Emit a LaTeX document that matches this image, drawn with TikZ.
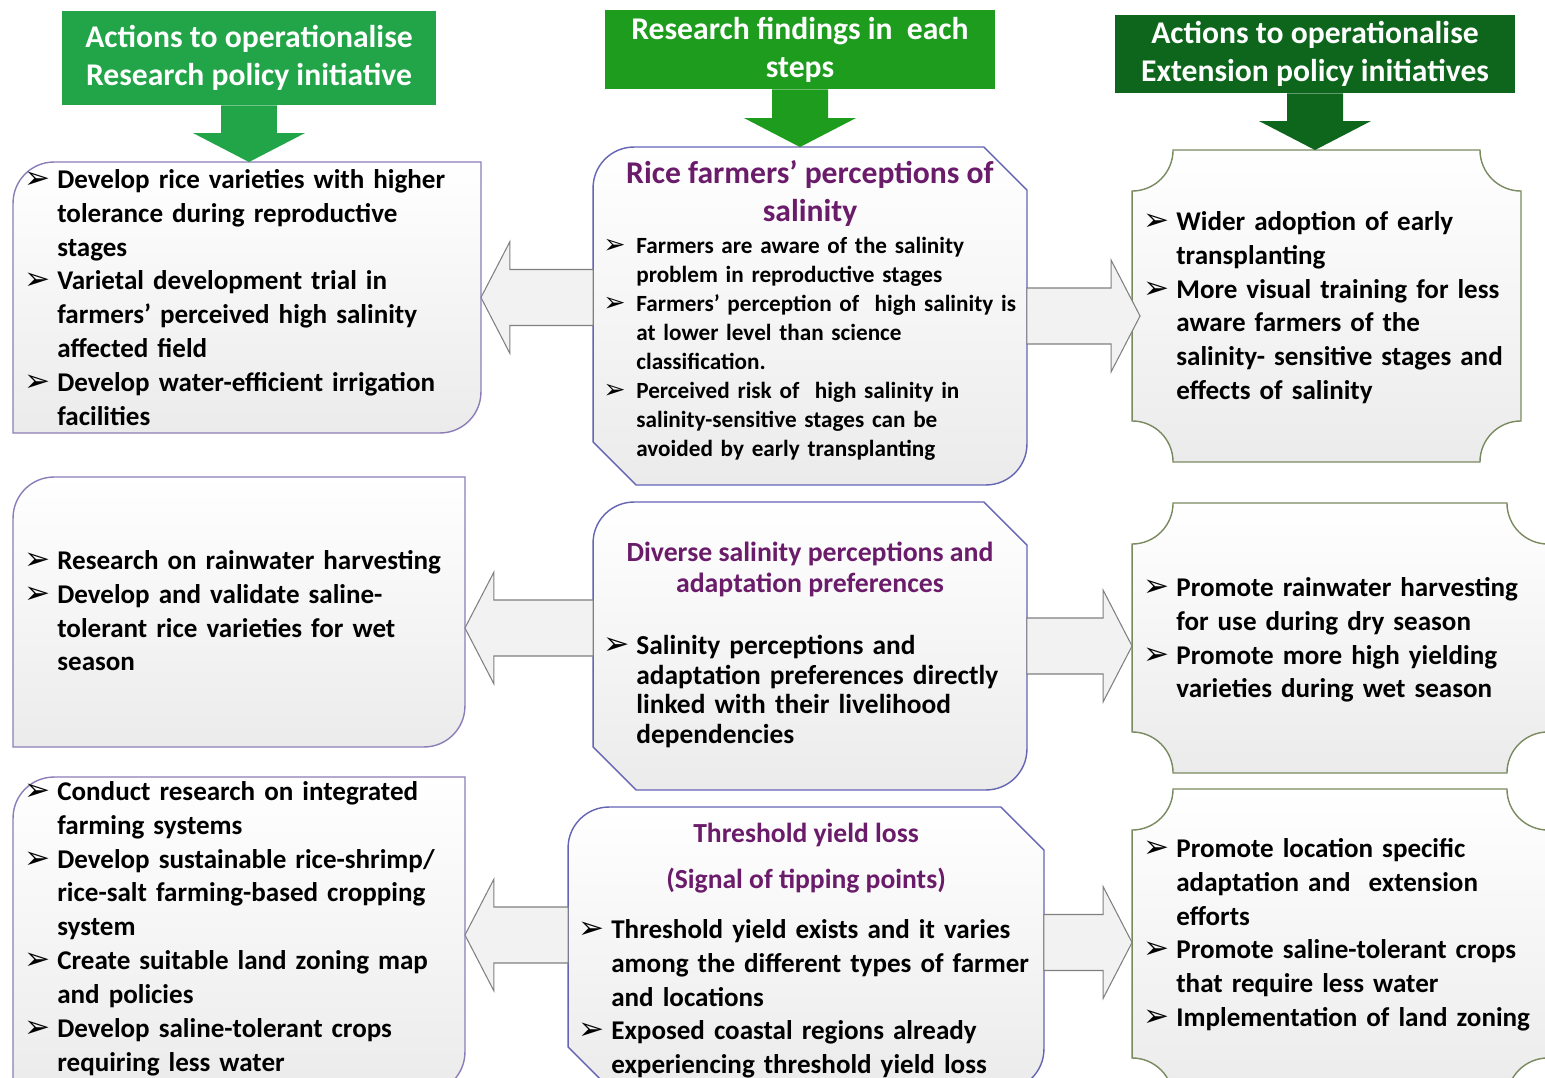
\documentclass[tikz,border=0pt]{standalone}
\usepackage{fontspec}
\setmainfont{Carlito}
\newfontfamily\dingfont{DejaVu Sans}
\usetikzlibrary{calc}

\definecolor{hdrA}{HTML}{22A548}
\definecolor{hdrB}{HTML}{1E9C1E}
\definecolor{hdrC}{HTML}{0E661C}
\definecolor{titlepurple}{HTML}{6A1B6A}
\definecolor{leftline}{HTML}{8C7DB8}
\definecolor{midline}{HTML}{6464B4}
\definecolor{rightline}{HTML}{7A8A60}
\definecolor{arrline}{HTML}{808080}
\definecolor{boxgray}{HTML}{EBEBEB}

\newlength{\bulind}
\setlength{\bulind}{0.66cm}
\setlength{\parskip}{0pt}
\newcommand{\bitem}{\par\noindent\hangindent=\bulind\hangafter=1\makebox[\bulind][l]{\dingfont\scalebox{1.15}{➢}}}

\newcommand{\crad}{0.82cm}
\newcommand{\csnip}{0.86cm}
\newcommand{\shaftw}{0.56cm}
\newcommand{\headw}{1.12cm}
\newcommand{\headl}{0.58cm}

% box outlines drawn round a named area node
\newcommand{\actshape}[2]{%
  \path[#2] (#1.north west) ++(0,-\crad) arc[start angle=180,end angle=90,radius=\crad]
    -- (#1.north east) -- ([yshift=\crad]#1.south east)
    arc[start angle=0,end angle=-90,radius=\crad] -- (#1.south west) -- cycle;}
\newcommand{\findshape}[2]{%
  \path[#2] (#1.north west) ++(0,-\crad) arc[start angle=180,end angle=90,radius=\crad]
    -- ([xshift=-\csnip]#1.north east) -- ([yshift=-\csnip]#1.north east)
    -- ([yshift=\crad]#1.south east) arc[start angle=0,end angle=-90,radius=\crad]
    -- ([xshift=\csnip]#1.south west) -- ([yshift=\csnip]#1.south west) -- cycle;}
\newcommand{\extshape}[2]{%
  \path[#2] ([xshift=\crad]#1.north west) -- ([xshift=-\crad]#1.north east)
    arc[start angle=180,end angle=270,radius=\crad] -- ([yshift=\crad]#1.south east)
    arc[start angle=90,end angle=180,radius=\crad] -- ([xshift=\crad]#1.south west)
    arc[start angle=0,end angle=90,radius=\crad] -- ([yshift=-\crad]#1.north west)
    arc[start angle=-90,end angle=0,radius=\crad] -- cycle;}

% arrows
\newcommand{\downarr}[3]{%
  \fill[#3] let \p1=(#1.south), \p2=(#2.north) in
    ({\x1-\shaftw},\y1) -- ({\x1-\shaftw},{\y2+\headl}) -- ({\x1-\headw},{\y2+\headl})
    -- (\x1,\y2) -- ({\x1+\headw},{\y2+\headl}) -- ({\x1+\shaftw},{\y2+\headl})
    -- ({\x1+\shaftw},\y1) -- cycle;}
\newcommand{\sidearr}[2]{%
  \path[blockarr] let \p1=(#1), \p2=(#2), \n1={ifthenelse(\x2>\x1,1,-1)} in
    (\x1,{\y1+\shaftw}) -- ({\x2-\n1*\headl},{\y1+\shaftw}) -- ({\x2-\n1*\headl},{\y1+\headw})
    -- (\x2,\y1) -- ({\x2-\n1*\headl},{\y1-\headw}) -- ({\x2-\n1*\headl},{\y1-\shaftw})
    -- (\x1,{\y1-\shaftw}) -- cycle;}

\begin{document}
\begin{tikzpicture}[x=0.02cm, y=0.02cm,
    area/.style={inner sep=0, outer sep=0},
    hdr/.style={text=white, align=center, inner sep=0, font=\fontsize{18pt}{21.6pt}\selectfont\bfseries},
    lbox/.style={draw=leftline, line width=0.8pt, top color=white, bottom color=boxgray},
    mbox/.style={draw=midline, line width=0.8pt, top color=white, bottom color=boxgray},
    rbox/.style={draw=rightline, line width=0.8pt, top color=white, bottom color=boxgray},
    blockarr/.style={draw=arrline, line width=0.6pt, fill=black!5},
    bodytxt/.style={anchor=north west, inner sep=0, align=left, font=\fontsize{15.4pt}{19.3pt}\selectfont\bfseries},
    smalltxt/.style={anchor=north west, inner sep=0, align=left, font=\fontsize{13.2pt}{16.5pt}\selectfont\bfseries},
    ttl/.style={anchor=north, inner sep=0, align=center, text=titlepurple}
  ]
  \useasboundingbox (0,0) rectangle (1545,-1078);
  \clip (0,0) rectangle (1545,-1078);
  \fill[white] (0,0) rectangle (1545,-1078);

  % headers
  \node[hdr, fill=hdrA, minimum width=7.48cm, minimum height=1.88cm] (h1) at (249,-58) {Actions to operationalise\\Research policy initiative};
  \node[hdr, fill=hdrB, minimum width=7.8cm, minimum height=1.58cm] (h2) at (800,-49.5) {Research findings in \ each\\steps};
  \node[hdr, fill=hdrC, minimum width=8cm, minimum height=1.56cm] (h3) at (1315,-54) {Actions to operationalise\\Extension policy initiatives};

  % box areas
  \node[area, minimum width=9.36cm, minimum height=5.42cm] (l1) at (247,-297.5) {};
  \node[area, minimum width=9.04cm, minimum height=5.4cm] (l2) at (239,-612) {};
  \node[area, minimum width=9.04cm, minimum height=6.32cm] (l3) at (239,-935) {};
  \node[area, minimum width=8.68cm, minimum height=6.76cm] (m1) at (810,-316) {};
  \node[area, minimum width=8.68cm, minimum height=5.76cm] (m2) at (810,-646) {};
  \node[area, minimum width=9.52cm, minimum height=5.66cm] (m3) at (806,-948.5) {};
  \node[area, minimum width=7.78cm, minimum height=6.24cm] (r1) at (1326.5,-306) {};
  \node[area, minimum width=8.32cm, minimum height=5.4cm] (r2) at (1340,-638) {};
  \node[area, minimum width=8.32cm, minimum height=6.2cm] (r3) at (1340,-944) {};

  \actshape{l1}{lbox}
  \actshape{l2}{lbox}
  \actshape{l3}{lbox}
  \findshape{m1}{mbox}
  \findshape{m2}{mbox}
  \findshape{m3}{mbox}
  \extshape{r1}{rbox}
  \extshape{r2}{rbox}
  \extshape{r3}{rbox}

  % arrows from headers
  \downarr{h1}{l1}{hdrA}
  \downarr{h2}{m1}{hdrB}
  \downarr{h3}{r1}{hdrC}

  % arrows between columns
  \sidearr{m1.west |- l1.east}{l1.east}
  \sidearr{m1.east}{$(r1.west |- m1.east)+(8,0)$}
  \sidearr{$(m2.west)+(0,18)$}{$(l2.east |- m2.west)+(0,18)$}
  \sidearr{m2.east}{r2.west |- m2.east}
  \sidearr{m3.west |- l3.east}{l3.east}
  \sidearr{$(m3.east)+(0,6)$}{$(r3.west |- m3.east)+(0,6)$}

  % texts
  \node[bodytxt, text width=9.2cm] (l1txt) at (24,-154) {%
    \bitem Develop rice varieties with higher\newline tolerance during reproductive\newline stages
    \bitem Varietal development trial in\newline farmers’ perceived high salinity\newline affected field
    \bitem Develop water-efficient irrigation\newline facilities\par};
  \node[bodytxt, text width=8.8cm] (l2txt) at (24,-535) {%
    \bitem Research on rainwater harvesting
    \bitem Develop and validate saline-\newline tolerant rice varieties for wet\newline season\par};
  \node[bodytxt, text width=8.8cm] (l3txt) at (24,-766) {%
    \bitem Conduct research on integrated\newline farming systems
    \bitem Develop sustainable rice-shrimp/\newline rice-salt farming-based cropping\newline system
    \bitem Create suitable land zoning map\newline and policies
    \bitem Develop saline-tolerant crops\newline requiring less water\par};

  \node[ttl, font=\fontsize{18pt}{21.6pt}\selectfont\bfseries] (m1ttl) at (810,-160) {Rice farmers’ perceptions of\\salinity};
  \node[smalltxt, text width=8.6cm] (m1txt) at (603,-224) {%
    \bitem Farmers are aware of the salinity\newline problem in reproductive stages
    \bitem Farmers’ perception of \ high salinity is\newline at lower level than science\newline classification.
    \bitem Perceived risk of \ high salinity in\newline salinity-sensitive stages can be\newline avoided by early transplanting\par};
  \node[ttl, font=\fontsize{15.8pt}{17.6pt}\selectfont\bfseries] (m2ttl) at (810,-542) {Diverse salinity perceptions and\\adaptation preferences};
  \node[bodytxt, text width=8.6cm, font=\fontsize{15.6pt}{17pt}\selectfont\bfseries] (m2txt) at (603,-624) {%
    \bitem Salinity perceptions and\newline adaptation preferences directly\newline linked with their livelihood\newline dependencies\par};
  \node[ttl, font=\fontsize{15.7pt}{26.2pt}\selectfont\bfseries] (m3ttl) at (806,-823) {Threshold yield loss\\(Signal of tipping points)};
  \node[bodytxt, text width=9.4cm] (m3txt) at (578,-904) {%
    \bitem Threshold yield exists and it varies\newline among the different types of farmer\newline and locations
    \bitem Exposed coastal regions already\newline experiencing threshold yield loss\par};

  \node[bodytxt, text width=8cm] (r1txt) at (1143,-196) {%
    \bitem Wider adoption of early\newline transplanting
    \bitem More visual training for less\newline aware farmers of the\newline salinity- sensitive stages and\newline effects of salinity\par};
  \node[bodytxt, text width=8cm] (r2txt) at (1143,-562) {%
    \bitem Promote rainwater harvesting\newline for use during dry season
    \bitem Promote more high yielding\newline varieties during wet season\par};
  \node[bodytxt, text width=8cm] (r3txt) at (1143,-823) {%
    \bitem Promote location specific\newline adaptation and \ extension\newline efforts
    \bitem Promote saline-tolerant crops\newline that require less water
    \bitem Implementation of land zoning\par};
\end{tikzpicture}
\end{document}
